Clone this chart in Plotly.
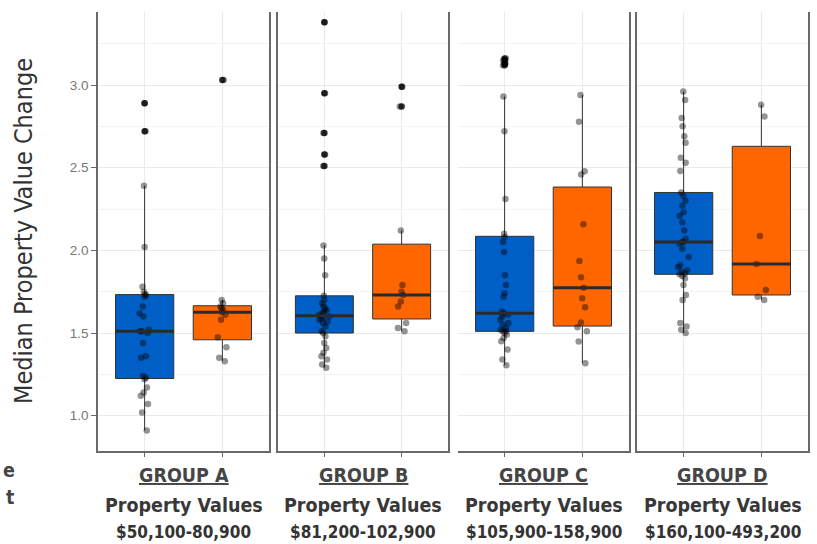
import numpy as np
import plotly.graph_objects as go

# ---- data -------------------------------------------------------------
groups = ["GROUP A", "GROUP B", "GROUP C", "GROUP D"]
price_ranges = ["$50,100-80,900", "$81,200-102,900",
                "$105,900-158,900", "$160,100-493,200"]
y_ticks = [1.0, 1.5, 2.0, 2.5, 3.0]

blue_a = [0.91, 1.02, 1.07, 1.12, 1.14, 1.17, 1.22, 1.23, 1.24, 1.35, 1.36,
          1.44, 1.50, 1.51, 1.51, 1.52, 1.60, 1.62, 1.66, 1.72, 1.73, 1.735,
          1.75, 1.78, 2.02, 2.39, 2.72, 2.89]
orange_a = [1.33, 1.35, 1.414, 1.474, 1.58, 1.61, 1.626, 1.64, 1.65, 1.66,
            1.68, 1.70, 3.03]

blue_b = [1.29, 1.31, 1.34, 1.36, 1.38, 1.41, 1.44, 1.48, 1.50, 1.51, 1.54,
          1.56, 1.57, 1.58, 1.59, 1.60, 1.60, 1.61, 1.62, 1.63, 1.64, 1.65,
          1.66, 1.68, 1.70, 1.725, 1.85, 1.95, 2.03, 2.51, 2.58, 2.71, 2.95,
          3.38]
orange_b = [1.51, 1.53, 1.56, 1.66, 1.69, 1.73, 1.75, 1.79, 2.12, 2.87, 2.99]

blue_c = [1.305, 1.34, 1.40, 1.45, 1.47, 1.49, 1.50, 1.51, 1.51, 1.52, 1.53,
          1.55, 1.56, 1.58, 1.60, 1.61, 1.62, 1.63, 1.72, 1.74, 1.79, 1.85,
          1.99, 2.05, 2.08, 2.10, 2.31, 2.72, 2.93, 3.12, 3.13, 3.15, 3.16]
orange_c = [1.317, 1.448, 1.51, 1.535, 1.563, 1.656, 1.71, 1.774, 1.837,
            1.936, 2.158, 2.458, 2.478, 2.777, 2.94]

blue_d = [1.50, 1.52, 1.54, 1.56, 1.70, 1.73, 1.79, 1.83, 1.845, 1.855, 1.86,
          1.87, 1.88, 1.90, 1.91, 1.96, 2.01, 2.04, 2.05, 2.052, 2.07, 2.12,
          2.17, 2.21, 2.23, 2.27, 2.30, 2.33, 2.35, 2.48, 2.53, 2.56, 2.65,
          2.69, 2.75, 2.80, 2.91, 2.96]
orange_d = [1.70, 1.72, 1.76, 1.918, 2.087, 2.81, 2.88]

blue_series = [blue_a, blue_b, blue_c, blue_d]
orange_series = [orange_a, orange_b, orange_c, orange_d]

# ---- styling ----------------------------------------------------------
W, H = 817, 544
BLUE = "#005FC6"
ORANGE = "#FF6600"
BORDER = "#6a6a6a"
GRID = "#EAEAEA"
MINOR = "#F4F4F4"
COND = "DejaVu Sans Condensed, Liberation Sans Narrow, sans-serif"

panels_px = [(98, 269), (278, 448), (458, 629), (637, 808)]
top_px, bottom_px = 12, 451
y_range = [0.7865, 3.4415]
box_w = 0.75


def px_x(x):
    return x / W


def px_y(y):
    return 1 - y / H


fig = go.Figure()

for i in range(4):
    sfx = "" if i == 0 else str(i + 1)
    for pos, vals, color in [(1, blue_series[i], BLUE),
                             (2, orange_series[i], ORANGE)]:
        xs = [pos] * len(vals)
        # box with every sample jittered on top
        fig.add_trace(go.Box(
            x=xs, y=vals, xaxis="x" + sfx, yaxis="y" + sfx,
            width=box_w, fillcolor=color,
            line=dict(color="#333333", width=1),
            whiskerwidth=0, boxpoints="all", jitter=0.2, pointpos=0,
            marker=dict(color="rgba(0,0,0,0.42)", size=6.5),
            showlegend=False, hoverinfo="skip"))
        # outliers drawn again, solid, on the box centre line
        fig.add_trace(go.Box(
            x=xs, y=vals, xaxis="x" + sfx, yaxis="y" + sfx,
            width=box_w, fillcolor="rgba(0,0,0,0)",
            line=dict(color="rgba(0,0,0,0)", width=0),
            whiskerwidth=0, boxpoints="outliers", jitter=0, pointpos=0,
            marker=dict(color="rgba(0,0,0,0.8)", size=6.5),
            showlegend=False, hoverinfo="skip"))
        # heavier median bar
        med = float(np.median(vals))
        fig.add_trace(go.Scatter(
            x=[pos - box_w / 2, pos + box_w / 2], y=[med, med],
            xaxis="x" + sfx, yaxis="y" + sfx, mode="lines",
            line=dict(color="#2a2a2a", width=3),
            showlegend=False, hoverinfo="skip"))

layout = dict(
    width=W, height=H,
    margin=dict(l=0, r=0, t=0, b=0),
    paper_bgcolor="white", plot_bgcolor="white",
    boxmode="overlay",
    annotations=[],
)

for i, (l, r) in enumerate(panels_px):
    sfx = "" if i == 0 else str(i + 1)
    layout["xaxis" + sfx] = dict(
        domain=[px_x(l), px_x(r)], range=[0.4, 2.6],
        tickvals=[1, 2], showticklabels=False,
        ticks="outside", ticklen=4, tickcolor=BORDER, tickwidth=1,
        showgrid=True, gridcolor=GRID, gridwidth=1,
        showline=True, linecolor=BORDER, linewidth=1.5,
        zeroline=False, anchor="y" + sfx, fixedrange=True)
    yax = dict(
        domain=[px_y(bottom_px), px_y(top_px)], range=y_range,
        tickvals=y_ticks, tickformat=".1f",
        showgrid=True, gridcolor=GRID, gridwidth=1,
        minor=dict(tickvals=[1.25, 1.75, 2.25, 2.75, 3.25],
                   showgrid=True, gridcolor=MINOR, gridwidth=0.8),
        showline=True, linecolor=BORDER, linewidth=1.5,
        zeroline=False, anchor="x" + sfx, fixedrange=True)
    if i == 0:
        yax.update(mirror=True, ticks="outside", ticklen=5,
                   tickcolor=BORDER, showticklabels=True,
                   tickfont=dict(family="Liberation Sans, Arial",
                                 size=13.5, color="#777777"))
    elif i == 2:
        yax.update(side="right", showticklabels=False, ticks="")
    else:
        yax.update(mirror=True, showticklabels=False, ticks="")
    layout["yaxis" + sfx] = yax

    cx = px_x((l + r) / 2)
    layout["annotations"] += [
        dict(text=groups[i], x=cx, y=px_y(475), xref="paper", yref="paper",
             xanchor="center", yanchor="middle", showarrow=False,
             font=dict(family=COND, size=19.5, color="#454545",
                       weight="bold", lineposition="under")),
        dict(text="Property Values", x=cx, y=px_y(505), xref="paper",
             yref="paper", xanchor="center", yanchor="middle",
             showarrow=False,
             font=dict(family=COND, size=19.5, color="#383838",
                       weight="bold")),
        dict(text=price_ranges[i], x=cx, y=px_y(532), xref="paper",
             yref="paper", xanchor="center", yanchor="middle",
             showarrow=False,
             font=dict(family=COND, size=17, color="#333333",
                       weight="bold")),
    ]

layout["annotations"] += [
    dict(text="Median Property Value Change", textangle=-90,
         x=px_x(24), y=px_y(231), xref="paper", yref="paper",
         xanchor="center", yanchor="middle", showarrow=False,
         font=dict(family=COND, size=25, color="#333333")),
    dict(text="e", x=px_x(1), y=px_y(470), xref="paper", yref="paper",
         xanchor="left", yanchor="middle", showarrow=False,
         font=dict(family=COND, size=19.5, color="#444444",
                   weight="bold")),
    dict(text="t", x=px_x(4), y=px_y(497), xref="paper", yref="paper",
         xanchor="left", yanchor="middle", showarrow=False,
         font=dict(family=COND, size=19.5, color="#444444",
                   weight="bold")),
]

fig.update_layout(**layout)
fig.write_html("out.html")
